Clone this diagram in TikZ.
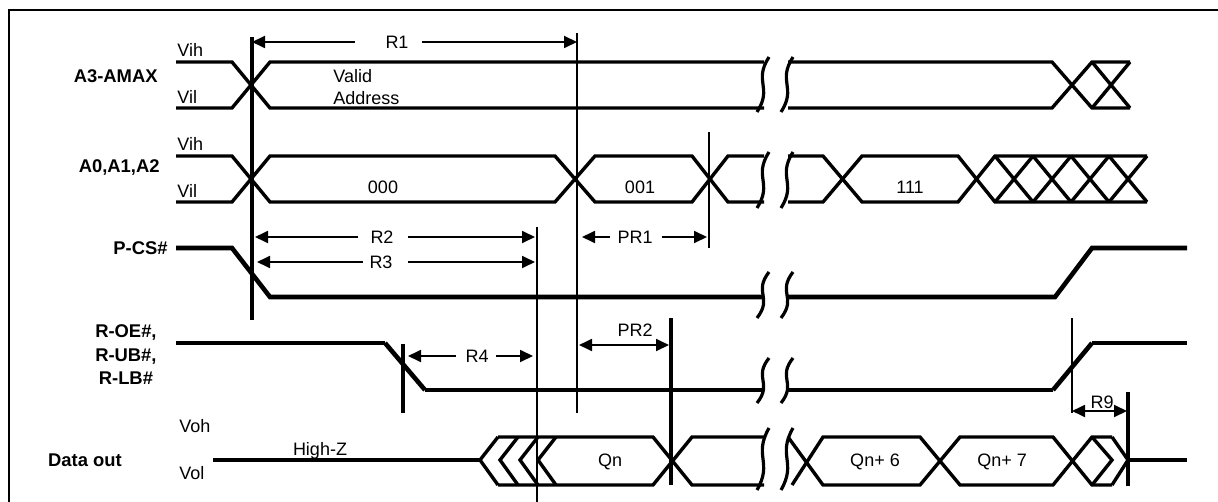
\documentclass[tikz,border=0pt]{standalone}
\usepackage{fontspec}
\setmainfont{Liberation Sans}
\usetikzlibrary{arrows.meta}

\begin{document}
\begin{tikzpicture}[x=0.5pt,y=-0.5pt,
  font=\fontsize{9}{10.8}\selectfont, inner sep=0pt,
  bus/.style={line width=1.7pt},
  sig/.style={line width=2.3pt},
  brk/.style={line width=1.6pt},
  tmthin/.style={line width=0.9pt},
  tmthick/.style={line width=1.7pt},
  dim/.style={line width=0.9pt,-{Triangle[length=6.5pt,width=6pt]}},
  dimboth/.style={line width=0.9pt,{Triangle[length=6.5pt,width=6pt]}-{Triangle[length=6.5pt,width=6pt]}},
  lbl/.style={font=\fontsize{9.2}{11.75}\selectfont\bfseries}]
\useasboundingbox (0,0) rectangle (1218,502);
\clip (0,0) rectangle (1218,502);

% frame
\draw[line width=1.2pt] (9,520) -- (9,10) -- (1240,10);

% signal names
\node[lbl,anchor=east] (a3) at (158,76) {A3-AMAX};
\node[lbl,anchor=east] (a0) at (160,168) {A0,A1,A2};
\node[lbl,anchor=east] (pcs) at (168,248) {P-CS\#};
\node[lbl,anchor=east,align=center] (roe) at (157,355) {R-OE\#,\\R-UB\#,\\R-LB\#};
\node[lbl] (dout) at (85,460) {Data out};

% levels
\node[anchor=base west] (vih1) at (177,57) {Vih};
\node[anchor=base west] (vil1) at (177,104) {Vil};
\node[anchor=base west] (vih2) at (177,151) {Vih};
\node[anchor=base west] (vil2) at (177,198) {Vil};
\node[anchor=base west] (voh) at (179,432) {Voh};
\node[anchor=base west] (vol) at (179,479) {Vol};

% A3-AMAX
\draw[bus] (176,62) -- (232,62) -- (270,108) -- (764,108);
\draw[bus] (176,108) -- (232,108) -- (270,62) -- (764,62);
\draw[bus] (788,62) -- (1052,62) -- (1092,108) -- (1130,108);
\draw[bus] (788,108) -- (1052,108) -- (1092,62) -- (1130,62);
\draw[bus] (1092,62) -- (1130,108);
\draw[bus] (1092,108) -- (1130,62);
\node[anchor=west,align=left] (valid) at (333,87) {Valid\\Address};

% A0,A1,A2
\draw[bus] (176,156) -- (232,156) -- (270,202) -- (555,202) -- (595,156) -- (692,156) -- (728,202) -- (764,202);
\draw[bus] (176,202) -- (232,202) -- (270,156) -- (555,156) -- (595,202) -- (692,202) -- (728,156) -- (764,156);
\draw[bus] (788,156) -- (823,156) -- (862,202) -- (958,202) -- (995,156) -- (1147,156);
\draw[bus] (788,202) -- (823,202) -- (862,156) -- (958,156) -- (995,202) -- (1147,202);
\foreach \x in {995,1033,1071,1109} {
  \draw[bus] (\x,156) -- ({\x+38},202);
  \draw[bus] (\x,202) -- ({\x+38},156);
}
\node (c000) at (383,187) {000};
\node (c001) at (640,187) {001};
\node (c111) at (910,187) {111};

% P-CS#
\draw[sig] (176,248) -- (232,248) -- (270,297) -- (764,297);
\draw[sig] (786,297) -- (1055,297) -- (1092,248) -- (1187,248);

% R-OE#, R-UB#, R-LB#
\draw[bus] (176,343) -- (385,343);
\draw[sig] (385,343) -- (425,390);
\draw[bus] (425,390) -- (764,390);
\draw[bus] (786,390) -- (1053,390);
\draw[sig] (1053,390) -- (1092,343);
\draw[bus] (1092,343) -- (1187,343);

% Data out
\draw[bus] (213,460) -- (480,460);
\foreach \x in {480,500,520,538}
  \draw[bus] ({\x+18},437) -- (\x,460) -- ({\x+18},485);
\draw[bus] (498,437) -- (653,437) -- (692,485) -- (764,485);
\draw[bus] (498,485) -- (653,485) -- (692,437) -- (764,437);
\draw[bus] (788,437) -- (823,485) -- (920,485) -- (960,437) -- (1053,437) -- (1092,485) -- (1112,485);
\draw[bus] (792,485) -- (823,437) -- (920,437) -- (960,485) -- (1053,485) -- (1092,437) -- (1112,437);
\draw[bus] (1092,437) -- (1112,460) -- (1092,485);
\draw[bus] (1112,437) -- (1128,460) -- (1112,485);
\draw[bus] (1128,460) -- (1187,460);
\node[anchor=base] (hiz) at (320,455) {High-Z};
\node (qn) at (610,462) {Qn};
\node (qn6) at (875,462) {Qn+ 6};
\node (qn7) at (1002,462) {Qn+ 7};

% breaks
\foreach \yt/\yb in {57/112,152/208,272/318,358/403,428/490}
  \foreach \xs in {763,787}
    \draw[brk] ({\xs+6},\yt) .. controls ({\xs-10},{\yt+0.45*(\yb-\yt)}) and ({\xs+10},{\yb-0.45*(\yb-\yt)}) .. ({\xs-6},\yb);

% timing marks
\draw[tmthick] (252,37) -- (252,320);
\draw[tmthin] (577,33) -- (577,413);
\draw[tmthin] (537,227) -- (537,502);
\draw[tmthin] (709,132) -- (709,248);
\draw[tmthick] (403,344) -- (403,413);
\draw[tmthick] (671,318) -- (671,485);
\draw[tmthin] (1072,318) -- (1072,413);
\draw[tmthick] (1128,392) -- (1128,486);

% intervals
\node (r1) at (397,42) {R1};
\draw[dim] (355,42) -- (252,42);
\draw[dim] (422,42) -- (577,42);
\node (r2) at (382,237) {R2};
\draw[dim] (358,237) -- (255,237);
\draw[dim] (408,237) -- (535,237);
\node (r3) at (381,262) {R3};
\draw[dim] (363,262) -- (257,262);
\draw[dim] (408,262) -- (535,262);
\node (r4) at (477,356) {R4};
\draw[dim] (456,356) -- (408,356);
\draw[dim] (496,356) -- (533,356);
\node (pr1) at (635,237) {PR1};
\draw[dim] (610,237) -- (582,237);
\draw[dim] (662,237) -- (707,237);
\node (pr2) at (635,330) {PR2};
\draw[dimboth] (579,345) -- (669,345);
\node (r9) at (1102,402) {R9};
\draw[dimboth] (1072,411) -- (1127,411);
\end{tikzpicture}
\end{document}
